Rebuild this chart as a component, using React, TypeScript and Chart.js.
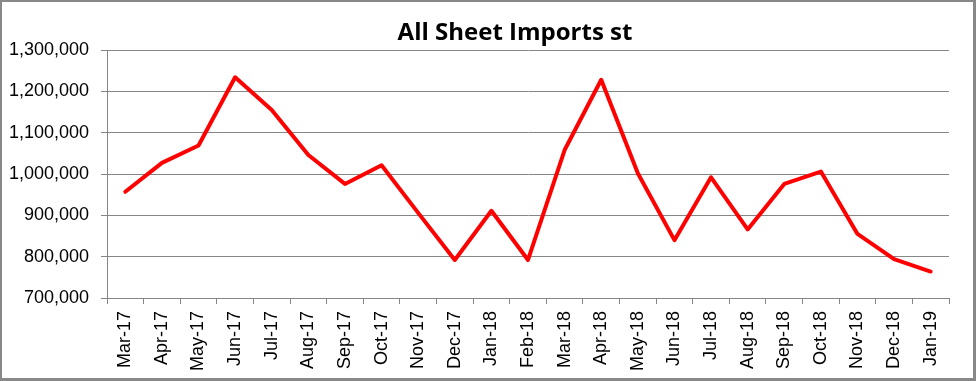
import React, { useEffect, useRef } from "react";
import { Chart, registerables } from "chart.js";

Chart.register(...registerables);

const months = [
  "Mar-17", "Apr-17", "May-17", "Jun-17", "Jul-17", "Aug-17", "Sep-17", "Oct-17",
  "Nov-17", "Dec-17", "Jan-18", "Feb-18", "Mar-18", "Apr-18", "May-18", "Jun-18",
  "Jul-18", "Aug-18", "Sep-18", "Oct-18", "Nov-18", "Dec-18", "Jan-19",
];

const imports = [
  957000, 1027000, 1069000, 1234000, 1155000, 1046000, 976000, 1021000,
  906000, 792000, 911000, 792000, 1058000, 1228000, 1002000, 840000,
  992000, 866000, 976000, 1006000, 855000, 794000, 764000,
];

const titleText = "All Sheet Imports st";
const yMin = 700000;
const yMax = 1300000;
const yStep = 100000;

const W = 976;
const H = 381;

const decorPlugin = {
  id: "decor",
  afterDraw(chart: any) {
    const ctx = chart.ctx;
    ctx.save();
    ctx.fillStyle = "#888888";
    ctx.fillRect(0, 0, W, 2);
    ctx.fillRect(0, 0, 2, H);
    ctx.fillRect(W - 3, 0, 3, H);
    ctx.fillRect(0, H - 3, W, 3);
    ctx.fillStyle = "#000000";
    ctx.font = "bold 24px 'Open Sans'";
    ctx.textAlign = "center";
    ctx.textBaseline = "alphabetic";
    ctx.fillText(titleText, 515, 40);
    ctx.restore();
  },
};

export default function App() {
  const ref = useRef<HTMLCanvasElement>(null);
  useEffect(() => {
    if (!ref.current) return;
    const chart = new Chart(ref.current, {
      type: "line",
      data: {
        labels: months,
        datasets: [
          {
            data: imports,
            borderColor: "#ff0000",
            borderWidth: 4,
            pointRadius: 0,
            tension: 0,
            fill: false,
            borderJoinStyle: "round",
            borderCapStyle: "round",
          },
        ],
      },
      options: {
        animation: false,
        responsive: false,
        layout: { padding: { top: 50, right: 27, left: 0, bottom: 0 } },
        plugins: {
          legend: { display: false },
          title: { display: false },
          tooltip: { enabled: false },
        },
        scales: {
          x: {
            type: "category",
            offset: true,
            afterFit(scale: any) {
              scale.height = 83;
            },
            grid: {
              offset: true,
              drawOnChartArea: false,
              drawTicks: true,
              tickLength: 6,
              color: "#868686",
            },
            border: { color: "#868686" },
            ticks: {
              autoSkip: false,
              maxRotation: 90,
              minRotation: 90,
              padding: 7,
              color: "#000000",
              font: { family: "'Liberation Sans'", size: 18 },
            },
          },
          y: {
            min: yMin,
            max: yMax,
            afterFit(scale: any) {
              scale.width = 107;
            },
            grid: { color: "#868686", tickLength: 6 },
            border: { color: "#868686" },
            ticks: {
              stepSize: yStep,
              padding: 12,
              color: "#000000",
              font: { family: "'Liberation Sans'", size: 18 },
              callback: (v: any) => Number(v).toLocaleString("en-US"),
            },
          },
        },
      },
      plugins: [decorPlugin],
    });
    return () => chart.destroy();
  }, []);
  return (
    <div style={{ position: "fixed", left: 0, top: 0, width: W, height: H, background: "#fff" }}>
      <canvas ref={ref} width={W} height={H} style={{ width: W, height: H, display: "block" }} />
    </div>
  );
}
